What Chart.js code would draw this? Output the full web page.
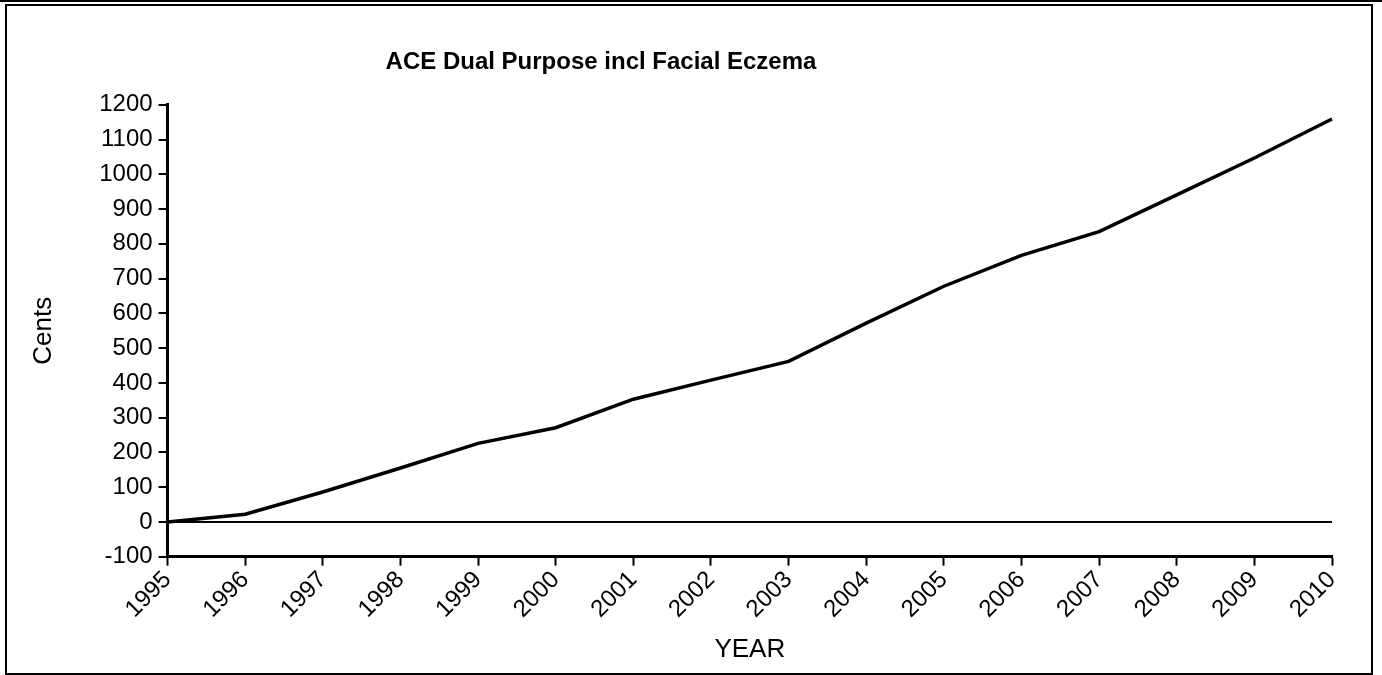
<!DOCTYPE html>
<html>
<head>
<meta charset="utf-8">
<script src="https://cdn.jsdelivr.net/npm/chart.js@4"></script>
<style>
    body { margin: 0; background: #fff; }
    #wrap { position: relative; width: 1382px; height: 675px; overflow: hidden; }
    #topLine { position: absolute; left: 0; top: 0; width: 1382px; height: 2px; background: #000; }
    #frame { position: absolute; left: 5px; top: 4px; width: 1368px; height: 671px; box-sizing: border-box; border: 2px solid #000; pointer-events: none; }
    canvas { position: absolute; left: 0; top: 0; }
</style>
</head>
<body>
<div id="wrap">
    <canvas id="aceChart" width="1382" height="675"></canvas>
    <div id="topLine"></div>
    <div id="frame"></div>
</div>
<script>
// Chart data
const years = ['1995', '1996', '1997', '1998', '1999', '2000', '2001', '2002',
               '2003', '2004', '2005', '2006', '2007', '2008', '2009', '2010'];
const cents = [0, 22, 86, 155, 226, 271, 353, 408, 462, 572, 678, 767, 835, 941, 1047, 1159];
const yMin = -100;
const yMax = 1200;
const yStep = 100;

const fontFamily = '"Liberation Sans", Arial, Helvetica, sans-serif';

// The reference title sits left of the plot centre, so move the title box
const titleShift = {
    id: 'titleShift',
    afterLayout(chart) {
        if (chart.titleBlock) {
            chart.titleBlock.left = 0;
            chart.titleBlock.right = 1202;
        }
    }
};

// Render the ACE chart
function renderAceChart() {
    const ctx = document.getElementById('aceChart').getContext('2d');

    window.aceChartInstance = new Chart(ctx, {
        type: 'line',
        data: {
            labels: years,
            datasets: [{
                label: 'Cents',
                data: cents,
                borderColor: '#000',
                backgroundColor: '#000',
                borderWidth: 3.5,
                pointRadius: 0,
                tension: 0,
                fill: false
            }]
        },
        options: {
            responsive: false,
            animation: false,
            layout: {
                padding: { top: 0, left: 12, right: 50, bottom: 0 }
            },
            scales: {
                x: {
                    offset: false,
                    border: { display: true, color: '#000', width: 3 },
                    grid: {
                        drawOnChartArea: false,
                        color: '#000',
                        tickColor: '#000',
                        tickLength: 9,
                        tickWidth: 2
                    },
                    ticks: {
                        color: '#000',
                        font: { family: fontFamily, size: 24 },
                        minRotation: 45,
                        maxRotation: 45,
                        padding: 0,
                        autoSkip: false
                    },
                    title: {
                        display: true,
                        text: 'YEAR',
                        color: '#000',
                        font: { family: fontFamily, size: 26 },
                        padding: { top: 10, bottom: 10 }
                    }
                },
                y: {
                    min: yMin,
                    max: yMax,
                    border: { display: true, color: '#000', width: 3 },
                    grid: {
                        drawOnChartArea: true,
                        // only the zero line is drawn across the plot
                        color: c => (c.tick && c.tick.value === 0) ? '#000' : 'rgba(0,0,0,0)',
                        lineWidth: 2,
                        tickColor: '#000',
                        tickLength: 9,
                        tickWidth: 2
                    },
                    ticks: {
                        stepSize: yStep,
                        color: '#000',
                        font: { family: fontFamily, size: 24 },
                        padding: 6,
                        callback: v => String(v)
                    },
                    title: {
                        display: true,
                        text: 'Cents',
                        color: '#000',
                        font: { family: fontFamily, size: 26 },
                        padding: { top: 16, bottom: 34 }
                    }
                }
            },
            plugins: {
                legend: { display: false },
                tooltip: { enabled: false },
                title: {
                    display: true,
                    text: 'ACE Dual Purpose incl Facial Eczema',
                    color: '#000',
                    font: { family: fontFamily, size: 24, weight: 'bold' },
                    padding: { top: 48, bottom: 28 }
                }
            }
        },
        plugins: [titleShift]
    });
}

renderAceChart();
</script>
</body>
</html>
